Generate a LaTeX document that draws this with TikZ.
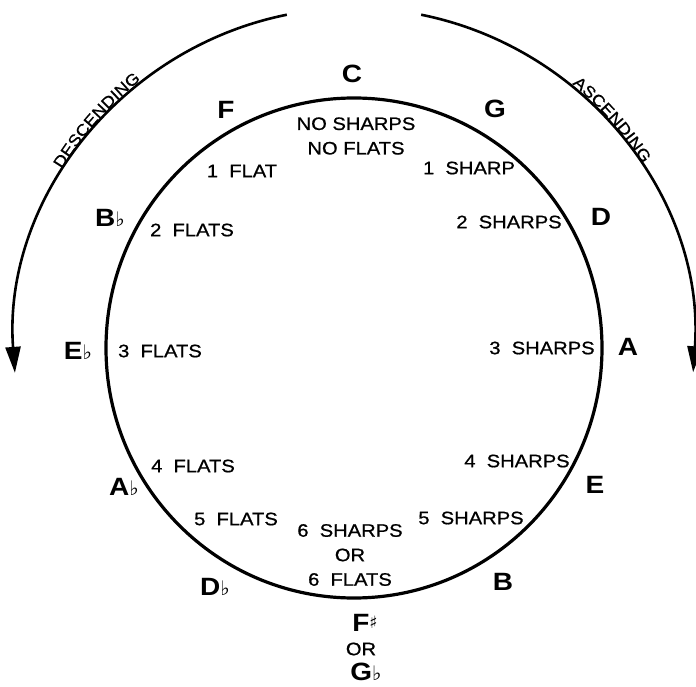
\documentclass[tikz,border=0pt]{standalone}
\usepackage{fontspec}
\setmainfont{Liberation Sans}[FakeStretch=1.12]
\newfontfamily\keyfont{Liberation Sans}[FakeStretch=1.12,FakeBold=0.8]
\newfontfamily\accfont{DejaVu Sans}
\usetikzlibrary{arrows.meta,decorations.text}
\newcommand{\flt}{{\accfont\fontsize{20}{20}\selectfont ♭}}
\newcommand{\shp}{\raisebox{3pt}{\accfont\fontsize{17}{17}\selectfont ♯}}
\newcommand{\arcfont}{\keyfont\fontsize{16}{16}\selectfont}

\begin{document}
\begin{tikzpicture}[x=1pt,y=1pt,
note/.style={font=\fontsize{25}{25}\selectfont\bfseries,inner sep=0pt},
keys/.style={font=\keyfont\fontsize{18}{24.5}\selectfont,align=center,inner sep=0pt},
ring/.style={line width=3.2pt},
dirarc/.style={line width=2.6pt,-{Triangle[length=26pt,width=15pt]}},
dirtext/.style={decorate,decoration={text along path,text align=center,raise=1.5pt,text={|\arcfont|#1}}}]
\useasboundingbox (-354,-338) rectangle (342,348);
\draw[ring] (0,0) ellipse[x radius=248,y radius=250];
\node[note] (c) at (-2,274) {C};
\node[keys] (nosh) at (2,212) {NO SHARPS\\NO FLATS};
\node[note] (f) at (-128,238) {F};
\node[note] (g) at (141,239) {G};
\node[keys] (oneflat) at (-112,177) {1~~FLAT};
\node[keys] (onesharp) at (115,180) {1~~SHARP};
\node[note] (bflat) at (-244,130) {B\flt};
\node[keys] (twoflats) at (-162,118) {2~~FLATS};
\node[note] (d) at (247,131) {D};
\node[keys] (twosharps) at (155,126) {2~~SHARPS};
\node[note] (eflat) at (-276,-3) {E\flt};
\node[keys] (threeflats) at (-194,-3) {3~~FLATS};
\node[keys] (threesharps) at (188,0) {3~~SHARPS};
\node[note] (a) at (274,1) {A};
\node[keys] (fourflats) at (-161,-118) {4~~FLATS};
\node[keys] (foursharps) at (163,-113) {4~~SHARPS};
\node[note] (aflat) at (-230,-139) {A\flt};
\node[note] (e) at (241,-137) {E};
\node[keys] (fiveflats) at (-118,-171) {5~~FLATS};
\node[keys] (fivesharps) at (117,-170) {5~~SHARPS};
\node[keys] (sixsh) at (-4,-207) {6~~SHARPS\\OR\\6~~FLATS};
\node[note] (dflat) at (-139,-239) {D\flt};
\node[note] (b) at (149,-234) {B};
\node[note] (fsharp) at (11,-275) {F\shp};
\node[keys] (fgor) at (7,-301) {OR};
\node[note] (gflat) at (12,-324) {G\flt};
\draw[dirarc] (101.4:340) arc[start angle=101.4,end angle=184.2,radius=340];
\draw[dirarc] (78.6:340) arc[start angle=78.6,end angle=-4.1,radius=340];
\path[dirtext=DESCENDING] (166:341) arc[start angle=166,end angle=111,radius=341];
\path[dirtext=ASCENDING] (69:341) arc[start angle=69,end angle=14,radius=341];
\end{tikzpicture}
\end{document}
